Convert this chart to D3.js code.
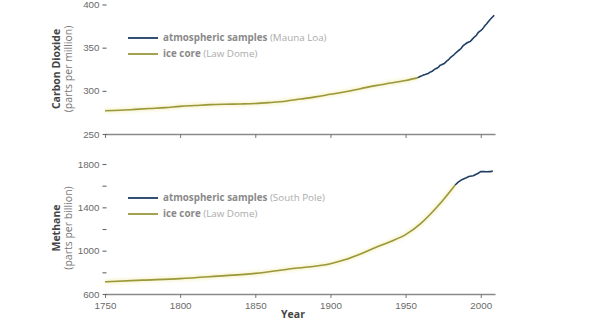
<!DOCTYPE html>
<html>
<head>
<meta charset="utf-8">
<script src="https://cdn.jsdelivr.net/npm/d3@7"></script>
<style>
  html, body { margin: 0; padding: 0; background: #fff; }
  svg { display: block; font-family: "Open Sans", "DejaVu Sans", sans-serif; }
</style>
</head>
<body>
<svg id="chart" width="601" height="322"></svg>
<script>
// Carbon dioxide: Law Dome ice core record (ppm)
const co2IceYears = [1750, 1760, 1770, 1780, 1790, 1800, 1810, 1820, 1830, 1840, 1850, 1860, 1870, 1880, 1890, 1900, 1910, 1920, 1930, 1940, 1950, 1958];
const co2IceValues = [277, 277.5, 278.5, 279.5, 280.5, 282, 283, 284, 284.5, 284.8, 285.3, 286.5, 288, 290.5, 293, 296, 299, 302.5, 306, 309, 312, 315];

// Carbon dioxide: Mauna Loa atmospheric samples, annual means (ppm)
const co2AirYears = [1958, 1959, 1960, 1961, 1962, 1963, 1964, 1965, 1966, 1967, 1968, 1969, 1970, 1971, 1972, 1973, 1974, 1975, 1976, 1977, 1978, 1979, 1980, 1981, 1982, 1983, 1984, 1985, 1986, 1987, 1988, 1989, 1990, 1991, 1992, 1993, 1994, 1995, 1996, 1997, 1998, 1999, 2000, 2001, 2002, 2003, 2004, 2005, 2006, 2007, 2008, 2009];
const co2AirValues = [315.3, 316.0, 316.9, 317.6, 318.5, 319.0, 319.6, 320.0, 321.4, 322.2, 323.0, 324.6, 325.7, 326.3, 327.5, 329.7, 330.2, 331.1, 332.0, 333.8, 335.4, 336.8, 338.8, 340.1, 341.5, 343.2, 344.9, 346.4, 347.6, 349.3, 351.7, 353.2, 354.5, 355.7, 356.5, 357.2, 359.0, 361.0, 362.7, 363.9, 366.8, 368.5, 369.7, 371.3, 373.5, 376.0, 377.7, 380.0, 382.1, 384.0, 385.8, 387.6];

// Methane: Law Dome ice core record (ppb)
const ch4IceYears = [1750, 1775, 1800, 1825, 1850, 1875, 1900, 1910, 1920, 1930, 1940, 1950, 1960, 1970, 1975, 1983];
const ch4IceValues = [713, 728, 742, 765, 790, 835, 880, 918, 970, 1030, 1085, 1148, 1250, 1390, 1468, 1606];

// Methane: South Pole atmospheric samples (ppb)
const ch4AirYears = [1983, 1985, 1987, 1990, 1992, 1995, 1998, 2000, 2002, 2004, 2006, 2007, 2008];
const ch4AirValues = [1606, 1632, 1652, 1670, 1685, 1692, 1712, 1730, 1730, 1728, 1730, 1730, 1738];

// Axis ticks
const yearTicks = [1750, 1800, 1850, 1900, 1950, 2000];
const co2Ticks = [250, 300, 350, 400];
const ch4Ticks = [600, 800, 1000, 1200, 1400, 1600, 1800];
const ch4TickLabels = [600, 1000, 1400, 1800];

// Legend and axis titles
const co2Legend = [
  { key: "air", bold: "atmospheric samples", light: "(Mauna Loa)" },
  { key: "ice", bold: "ice core", light: "(Law Dome)" }
];
const ch4Legend = [
  { key: "air", bold: "atmospheric samples", light: "(South Pole)" },
  { key: "ice", bold: "ice core", light: "(Law Dome)" }
];
const co2Title = ["Carbon Dioxide", "(parts per million)"];
const ch4Title = ["Methane", "(parts per billion)"];
const xTitle = "Year";

const colors = { air: "#1f3e63", ice: "#9a983a", glow: "#f4efbc" };

const svg = d3.select("#chart");
const defs = svg.append("defs");
defs.append("filter").attr("id", "soft").attr("x", "-10%").attr("y", "-50%").attr("width", "120%").attr("height", "200%")
  .append("feGaussianBlur").attr("stdDeviation", 1.8);

const x = d3.scaleLinear().domain([1750, 2009.5]).range([105, 495]);

function panel(opts) {
  const g = svg.append("g");
  const y = d3.scaleLinear().domain(opts.domain).range(opts.range);
  const line = d3.line().x(d => x(d[0])).y(d => y(d[1])).curve(d3.curveMonotoneX);
  const ice = d3.zip(opts.iceYears, opts.iceValues);
  const air = d3.zip(opts.airYears, opts.airValues);

  // Bottom axis line and ticks
  const xAxis = d3.axisBottom(x).tickValues(yearTicks).tickSize(4).tickSizeOuter(0)
    .tickFormat(opts.xLabels ? d3.format("d") : "");
  const gx = g.append("g").attr("transform", `translate(0,${opts.range[0]})`).call(xAxis);
  gx.select(".domain").attr("stroke", "#8a8a8a").attr("stroke-width", 1.6);
  gx.selectAll(".tick line").attr("stroke", "#777");
  gx.selectAll(".tick text").attr("fill", "#6a6a6a").attr("font-size", 9.8).attr("dy", "0.85em");

  // Left axis: ticks only, no spine
  const yAxis = d3.axisLeft(y).tickValues(opts.ticks).tickSize(4).tickPadding(3)
    .tickFormat(d => opts.labels.includes(d) ? d : "");
  const gy = g.append("g").attr("transform", "translate(106.5,0)").call(yAxis);
  gy.select(".domain").remove();
  gy.selectAll(".tick line").attr("stroke", "#666").attr("stroke-width", 1.1);
  gy.selectAll(".tick text").attr("fill", "#6a6a6a").attr("font-size", 9.8);

  // Soft halo under the ice core record
  g.append("path").datum(ice).attr("d", line).attr("fill", "none")
    .attr("stroke", colors.glow).attr("stroke-width", 4.5).attr("opacity", 0.7).attr("filter", "url(#soft)");
  g.append("path").datum(ice).attr("d", line).attr("fill", "none")
    .attr("stroke", colors.ice).attr("stroke-width", 1.6);
  g.append("path").datum(air).attr("d", d3.line().x(d => x(d[0])).y(d => y(d[1]))).attr("fill", "none")
    .attr("stroke", colors.air).attr("stroke-width", 1.6).attr("stroke-linejoin", "round");

  // Legend
  const lg = g.append("g").attr("transform", `translate(128,${opts.legendY})`);
  opts.legend.forEach((item, i) => {
    const row = lg.append("g").attr("transform", `translate(0,${i * 16})`);
    if (item.key === "ice") {
      row.append("line").attr("x1", 0).attr("x2", 30).attr("stroke", colors.glow)
        .attr("stroke-width", 4.5).attr("opacity", 0.7).attr("filter", "url(#soft)");
    }
    row.append("line").attr("x1", 0).attr("x2", 30)
      .attr("stroke", colors[item.key]).attr("stroke-width", 1.8);
    const t = row.append("text").attr("x", 35).attr("dy", "0.35em").attr("font-size", 9.8);
    t.append("tspan").attr("font-weight", "bold").attr("fill", "#8a8a8a").text(item.bold);
    t.append("tspan").attr("fill", "#ababab").text(" " + item.light);
  });

  // Rotated axis title
  const cy = opts.titleY;
  const tt = g.append("text").attr("transform", `translate(60,${cy}) rotate(-90)`)
    .attr("text-anchor", "middle").attr("font-size", 10.5);
  tt.append("tspan").attr("x", 0).attr("font-weight", "bold").attr("fill", "#444").text(opts.title[0]);
  tt.append("tspan").attr("x", 0).attr("dy", "1.1em").attr("fill", "#777").text(opts.title[1]);
}

panel({
  domain: [250, 400], range: [134, 4.5],
  ticks: co2Ticks, labels: co2Ticks,
  iceYears: co2IceYears, iceValues: co2IceValues,
  airYears: co2AirYears, airValues: co2AirValues,
  legend: co2Legend, legendY: 38, title: co2Title, titleY: 69, xLabels: false
});

panel({
  domain: [600, 1800], range: [294, 164],
  ticks: ch4Ticks, labels: ch4TickLabels,
  iceYears: ch4IceYears, iceValues: ch4IceValues,
  airYears: ch4AirYears, airValues: ch4AirValues,
  legend: ch4Legend, legendY: 198, title: ch4Title, titleY: 228, xLabels: true
});

svg.append("text").attr("x", 293).attr("y", 318).attr("text-anchor", "middle")
  .attr("font-size", 10.5).attr("font-weight", "bold").attr("fill", "#444").text(xTitle);
</script>
</body>
</html>
